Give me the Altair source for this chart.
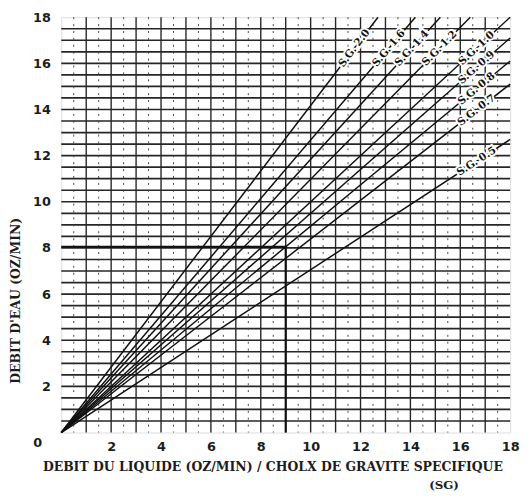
import math
import altair as alt
import pandas as pd

# Specific-gravity lines: end point of each line from origin
sg_labels = ["S.G. 2.0", "S.G. 1.6", "S.G. 1.4", "S.G. 1.2", "S.G. 1.0",
             "S.G. 0.9", "S.G. 0.8", "S.G. 0.7", "S.G. 0.5"]
end_x = [12.7, 14.2, 15.2, 16.4, 18.0, 18.0, 18.0, 18.0, 18.0]
end_y = [18.0, 18.0, 18.0, 18.0, 18.0, 17.1, 16.1, 15.1, 12.7]

# Worked example path (liquid 9 oz/min at S.G. 0.8 -> water ~8.05 oz/min)
ex_x = [0.0, 9.0, 9.0]
ex_y = [8.05, 8.05, 0.0]

tick_labels = [2, 4, 6, 8, 10, 12, 14, 16, 18]
grid_half = [i * 0.5 for i in range(1, 36)]
grid_int = [float(i) for i in range(1, 18)]
grid_mid = [i + 0.5 for i in range(18)]

W, H = 455, 421
px_ratio = (H / 18) / (W / 18)

rows = []
for lab, x1, y1 in zip(sg_labels, end_x, end_y):
    rows.append({"sg": lab, "x": 0.0, "y": 0.0, "o": 0})
    rows.append({"sg": lab, "x": x1, "y": y1, "o": 1})
lines_df = pd.DataFrame(rows)

lab_rows = []
for lab, x1, y1 in zip(sg_labels, end_x, end_y):
    t = 0.925
    ang = math.degrees(math.atan(y1 / x1 * px_ratio))
    lab_rows.append({"sg": lab, "x": x1 * t, "y": y1 * t, "angle": 360 - ang})
lab_df = pd.DataFrame(lab_rows)

ex_df = pd.DataFrame({"x": ex_x, "y": ex_y, "o": list(range(len(ex_x)))})

xscale = alt.Scale(domain=[0, 18], nice=False, zero=True)
yscale = alt.Scale(domain=[0, 18], nice=False, zero=True)

FONT_T = "DejaVu Serif"
FONT_L = "DejaVu Sans"
INK = "#1c1c1c"

x_axis = alt.Axis(
    values=tick_labels, grid=False, ticks=False, domain=False,
    labelFont=FONT_L, labelFontWeight="bold", labelFontSize=13, labelColor=INK,
    labelPadding=8, labelFlush=False,
    title="DEBIT DU LIQUIDE (OZ/MIN) / CHOLX DE GRAVITE SPECIFIQUE",
    titleFont=FONT_T, titleFontWeight="bold", titleFontSize=12.6, titleColor=INK,
    titleX=214, titleY=35, titleAlign="center", titleBaseline="middle",
)
y_axis = alt.Axis(
    values=tick_labels, grid=False, ticks=False, domain=False,
    labelFont=FONT_L, labelFontWeight="bold", labelFontSize=13, labelColor=INK,
    labelPadding=11, labelFlush=False,
    title="DEBIT D'EAU (OZ/MIN)",
    titleFont=FONT_T, titleFontWeight="bold", titleFontSize=12.6, titleColor=INK,
    titleAngle=270, titleX=-46, titleY=287, titleAlign="center", titleBaseline="middle",
)

hgrid = alt.Chart(pd.DataFrame({"v": grid_half})).mark_rule(
    color="#262626", strokeWidth=1.7
).encode(y=alt.Y("v:Q", scale=yscale, axis=y_axis))

vgrid = alt.Chart(pd.DataFrame({"v": grid_int})).mark_rule(
    color="#262626", strokeWidth=1.4
).encode(x=alt.X("v:Q", scale=xscale, axis=x_axis))

vgrid_mid = alt.Chart(pd.DataFrame({"v": grid_mid})).mark_rule(
    color="#444", strokeWidth=1.0, strokeDash=[2, 5]
).encode(x=alt.X("v:Q", scale=xscale))

lines = alt.Chart(lines_df).mark_line(color="#111", strokeWidth=1.5).encode(
    x=alt.X("x:Q", scale=xscale),
    y=alt.Y("y:Q", scale=yscale),
    detail="sg:N",
    order="o:O",
)

example = alt.Chart(ex_df).mark_line(color="#111", strokeWidth=2.2).encode(
    x=alt.X("x:Q", scale=xscale),
    y=alt.Y("y:Q", scale=yscale),
    order="o:O",
)

lab_base = alt.Chart(lab_df).encode(
    x=alt.X("x:Q", scale=xscale),
    y=alt.Y("y:Q", scale=yscale),
    text="sg:N",
    angle=alt.Angle("angle:Q", scale=None),
)
labels_halo = lab_base.mark_text(
    font=FONT_T, fontWeight="bold", fontSize=10.5, color="white",
    stroke="white", strokeWidth=4, align="center", baseline="middle",
)
labels = lab_base.mark_text(
    font=FONT_T, fontWeight="bold", fontSize=10.5, color="#111",
    align="center", baseline="middle",
)

sg_note = alt.Chart(pd.DataFrame({"t": ["(SG)"]})).mark_text(
    font=FONT_T, fontWeight="bold", fontSize=12, color=INK,
    align="center", baseline="middle",
).encode(x=alt.value(388), y=alt.value(474), text="t:N")

zero_note = alt.Chart(pd.DataFrame({"t": ["0"]})).mark_text(
    font=FONT_L, fontWeight="bold", fontSize=13, color=INK,
    align="center", baseline="middle",
).encode(x=alt.value(-24), y=alt.value(432), text="t:N")

chart = alt.layer(
    hgrid, vgrid, vgrid_mid, lines, example, labels_halo, labels, sg_note, zero_note
).properties(
    width=W, height=H,
    autosize=alt.AutoSizeParams(type="none"),
    padding={"left": 54, "top": 6, "right": 11, "bottom": 59},
).configure_view(stroke="#111", strokeWidth=2.4).configure(background="white")

chart.save("out.html", embed_options={"renderer": "svg", "actions": False})
